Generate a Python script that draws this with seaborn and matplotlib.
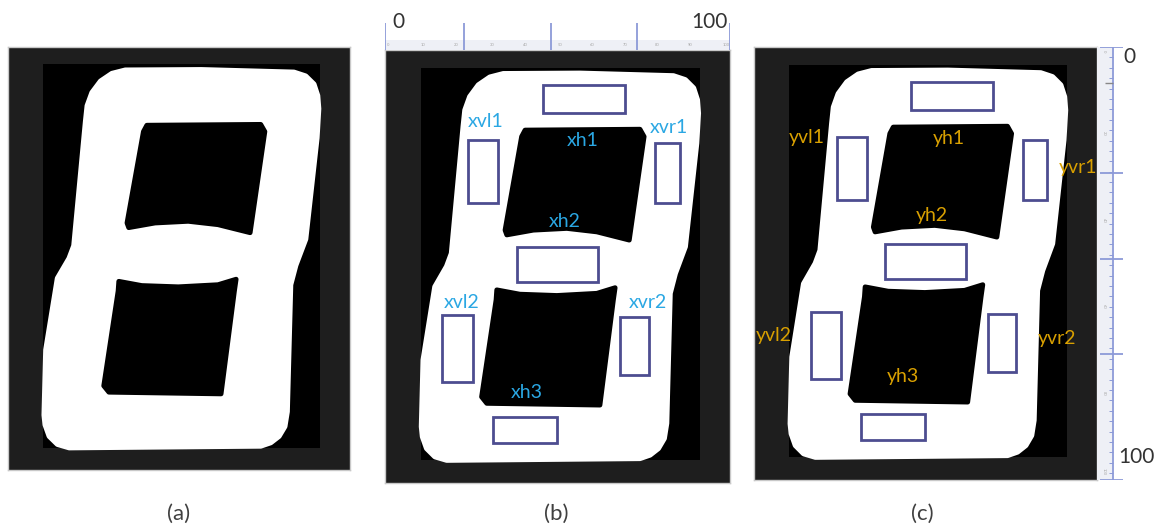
import matplotlib
matplotlib.use("Agg")
import matplotlib.pyplot as plt
from matplotlib.patches import Rectangle
import seaborn as sns

sns.set_theme(style="white")
plt.rcParams["font.family"] = ["Lato", "DejaVu Sans"]

W, H = 1155, 530

# Contorno del dígito "8" (unidades 0-100 dentro del marco)
outer_x = [22.7, 23.2, 24.6, 27.1, 30.4, 34.3, 56.5, 83.6, 87.0, 89.4, 90.5, 90.8,
           90.3, 87.0, 84.1, 82.6, 81.6, 80.9, 79.2, 76.8, 73.9, 17.9, 14.5, 12.1,
           10.9, 10.6, 11.1, 14.5, 17.9, 19.3]
outer_y = [17.7, 13.9, 10.8, 8.1, 6.3, 5.5, 5.4, 6.0, 6.9, 8.8, 11.5, 14.6,
           21.5, 45.4, 51.6, 56.2, 86.2, 89.7, 92.0, 93.5, 94.3, 94.7, 93.9, 92.0,
           89.3, 87.0, 71.6, 54.7, 50.0, 47.0]

hole1_x = [40.6, 73.9, 75.1, 70.8, 61.4, 52.7, 43.0, 35.3, 34.8, 39.6]
hole1_y = [18.5, 18.3, 20.0, 43.9, 42.0, 41.2, 41.6, 42.7, 41.6, 20.0]

hole2_x = [32.4, 39.1, 49.8, 61.4, 66.7, 66.2, 62.3, 29.5, 28.0, 32.2]
hole2_y = [55.4, 56.4, 56.7, 56.2, 54.9, 57.7, 82.0, 81.6, 80.1, 57.7]

inner_box = [10.3, 91.2, 4.1, 94.8]   # zona negra interior: x0, x1, y0, y1

# Rectángulos de muestreo (h1, vl1, vr1, h2, vl2, vr2, h3)
box_x0 = [45.8, 24.1, 78.3, 38.3, 16.5, 68.1, 31.3]
box_x1 = [69.6, 32.8, 85.5, 61.7, 25.5, 76.5, 49.9]
box_y0 = [8.1, 20.8, 21.5, 45.5, 61.2, 61.7, 84.8]
box_y1 = [14.5, 35.3, 35.3, 53.6, 76.7, 75.1, 90.8]

labels_b = ["xvl1", "xh1", "xvr1", "xh2", "xvl2", "xvr2", "xh3"]
labels_b_x = [29.3, 57.4, 82.3, 52.2, 22.3, 76.2, 41.2]
labels_b_y = [16.6, 20.8, 17.8, 39.7, 58.2, 58.2, 79.2]

labels_c = ["yvl1", "yh1", "yvr1", "yh2", "yvl2", "yvr2", "yh3"]
labels_c_x = [15.5, 56.9, 94.5, 51.9, 5.8, 88.3, 43.4]
labels_c_y = [20.8, 21.2, 27.9, 38.8, 66.7, 67.4, 76.2]

ruler_top_major = [0, 23, 48, 73, 100]
ruler_right_major = [0, 29, 49, 71, 100]
ruler_top_small = [1, 11, 20.6, 31, 40.6, 50.7, 60, 69.6, 78.8, 88.4, 99]
ruler_right_small = [1, 20, 40, 60, 80, 98]

captions = ["(a)", "(b)", "(c)"]
caption_x = [179, 556, 922]

# marcos de cada panel en píxeles: x0, y0, x1, y1
panels = [(8, 47, 350, 470), (385, 50, 730, 483), (754, 47, 1097, 480)]

BOX_COLOR = "#4d4d90"
BLUE_TXT = "#2aa7e3"
GOLD_TXT = "#d9a000"
RULER = "#8c9ad8"


def px_axes(fig, x0, y0, x1, y1):
    return fig.add_axes([x0 / W, 1 - y1 / H, (x1 - x0) / W, (y1 - y0) / H])


def draw_digit(ax):
    ax.set_xlim(0, 100)
    ax.set_ylim(100, 0)
    ax.set_facecolor("#1e1e1e")
    x0, x1, y0, y1 = inner_box
    ax.fill([x0, x1, x1, x0], [y0, y0, y1, y1], color="black", lw=0)
    ax.fill(outer_x, outer_y, facecolor="white", edgecolor="white", lw=4, joinstyle="round")
    ax.fill(hole1_x, hole1_y, facecolor="black", edgecolor="black", lw=3.5, joinstyle="round")
    ax.fill(hole2_x, hole2_y, facecolor="black", edgecolor="black", lw=3.5, joinstyle="round")
    ax.set_xticks([])
    ax.set_yticks([])
    for s in ax.spines.values():
        s.set_color("#c8c8c8")
        s.set_linewidth(1)


def draw_boxes(ax, labels, lx, ly, color):
    for a, b, c, d in zip(box_x0, box_x1, box_y0, box_y1):
        ax.add_patch(Rectangle((a, c), b - a, d - c, fill=False, edgecolor=BOX_COLOR, lw=2))
    for t, x, y in zip(labels, lx, ly):
        ax.text(x, y, t, color=color, fontsize=14, ha="center", va="center", clip_on=False)


fig = plt.figure(figsize=(W / 100, H / 100), dpi=100)
fig.patch.set_facecolor("white")

axes = [px_axes(fig, *p) for p in panels]
for ax in axes:
    draw_digit(ax)
draw_boxes(axes[1], labels_b, labels_b_x, labels_b_y, BLUE_TXT)
draw_boxes(axes[2], labels_c, labels_c_x, labels_c_y, GOLD_TXT)

# regla superior del panel (b)
rt = px_axes(fig, 385, 10, 730, 50)
rt.set_xlim(0, 100)
rt.set_ylim(40, 0)
rt.axis("off")
rt.axhspan(30, 39.5, color="#eef0f6", lw=0)
rt.vlines(ruler_top_major, 13, 39.5, color=RULER, lw=1.3)
for v in ruler_top_small:
    rt.text(v, 34.5, str(int(round(v / 10.0)) * 10) if v > 2 else "0", fontsize=3,
            color="#a8a8a8", ha="center", va="center")
rt.text(3.8, 12, "0", fontsize=15, color="#333333", ha="center", va="center")
rt.text(94, 12, "100", fontsize=15, color="#333333", ha="center", va="center")

# regla derecha del panel (c)
rr = px_axes(fig, 1097, 47, 1125, 480)
rr.set_xlim(0, 28)
rr.set_ylim(100, 0)
rr.axis("off")
rr.axvspan(0, 15, color="#eef0f6", lw=0)
rr.vlines(16, -0.5, 100, color=RULER, lw=1.3)
rr.hlines(ruler_right_major, 3, 26, color=RULER, lw=1.3)
minor = [i * 2.4 for i in range(1, 42)]
rr.hlines(minor, 12, 16, color=RULER, lw=0.7)
rr.hlines(8.3, 8, 16, color="#888888", lw=1)
for v in ruler_right_small:
    rr.text(7, v, str(int(round(v / 10.0)) * 10) if v > 2 else "0", fontsize=3,
            color="#a8a8a8", ha="center", va="center", rotation=-90)
fig.text(1129 / W, 1 - 57 / H, "0", fontsize=15, color="#333333", ha="center", va="center")
fig.text(1136 / W, 1 - 457 / H, "100", fontsize=15, color="#333333", ha="center", va="center")

for t, x in zip(captions, caption_x):
    fig.text(x / W, 1 - 514 / H, t, fontsize=16, color="#404040", ha="center", va="center")

fig.savefig("out.png", dpi=100)
